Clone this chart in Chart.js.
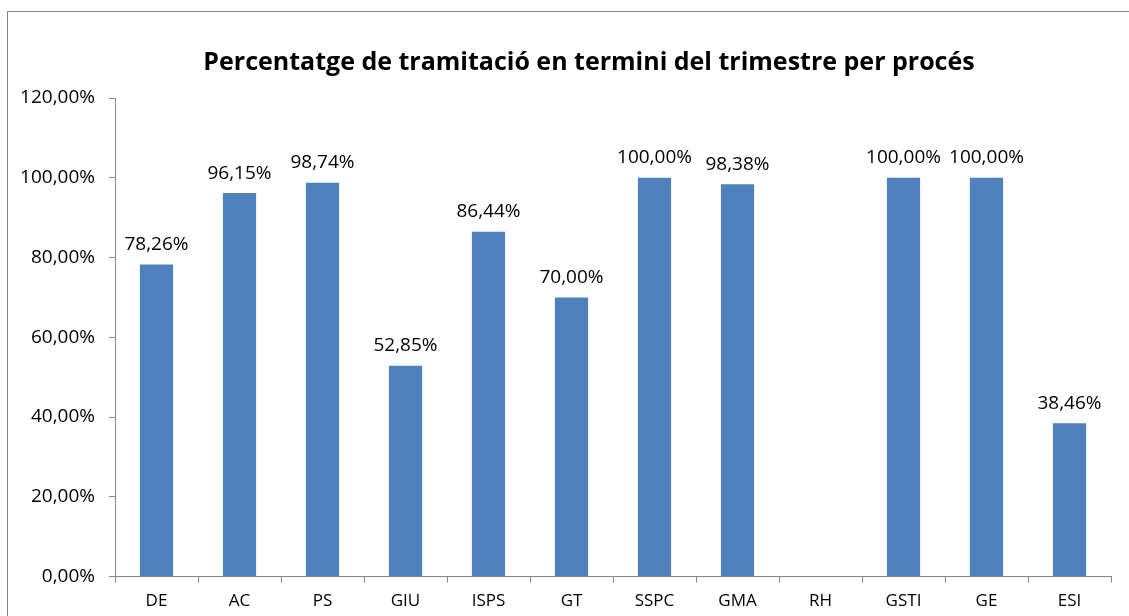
<!DOCTYPE html>
<html>
<head>
<meta charset="utf-8">
<script src="https://cdn.jsdelivr.net/npm/chart.js@4"></script>
<style>
  body { margin: 0; background: #fff; }
  #frame { position: absolute; left: 7px; top: 11px; width: 1130px; height: 620px; border: 1px solid #868686; }
  #wrap { position: absolute; left: 0; top: 0; width: 1129px; height: 616px; }
</style>
</head>
<body>
<div id="frame"></div>
<div id="wrap"><canvas id="chart"></canvas></div>
<script>
var categories = ['DE', 'AC', 'PS', 'GIU', 'ISPS', 'GT', 'SSPC', 'GMA', 'RH', 'GSTI', 'GE', 'ESI'];
var values = [78.26, 96.15, 98.74, 52.85, 86.44, 70.00, 100.00, 98.38, null, 100.00, 100.00, 38.46];
var yTicks = [0, 20, 40, 60, 80, 100, 120];
var title = 'Percentatge de tramitació en termini del trimestre per procés';

function pct(v) {
	return v.toFixed(2).replace('.', ',') + '%';
}

// data labels above the bars, and the title centred like the original
var barLabels = {
	id: 'barLabels',
	afterDatasetsDraw: function(chart) {
		var ctx = chart.ctx;
		var meta = chart.getDatasetMeta(0);
		ctx.save();
		ctx.font = '19px "Open Sans"';
		ctx.fillStyle = '#000';
		ctx.textAlign = 'center';
		ctx.textBaseline = 'middle';
		meta.data.forEach(function(bar, i) {
			if (values[i] === null) return;
			ctx.fillText(pct(values[i]), bar.x, bar.y - 20);
		});
		ctx.font = 'bold 25px "Open Sans"';
		ctx.fillText(title, 589, 63);
		ctx.restore();
	}
};

new Chart(document.getElementById('chart'), {
	type: 'bar',
	data: {
		labels: categories,
		datasets: [{
			data: values,
			backgroundColor: '#4F81BD',
			barPercentage: 0.4,
			categoryPercentage: 1
		}]
	},
	plugins: [barLabels],
	options: {
		responsive: true,
		maintainAspectRatio: false,
		animation: false,
		layout: { padding: { left: 0, right: 18, top: 98, bottom: -3 } },
		plugins: {
			legend: { display: false },
			tooltip: { enabled: false },
			title: { display: false }
		},
		scales: {
			x: {
				grid: { offset: true, drawOnChartArea: false, tickLength: 6, color: '#868686' },
				border: { color: '#868686' },
				ticks: { color: '#000', font: { family: 'Open Sans', size: 17 }, padding: 8 }
			},
			y: {
				min: 0,
				max: 120,
				afterFit: function(scale) { scale.width = 115; },
				afterBuildTicks: function(scale) {
					scale.ticks = yTicks.map(function(v) { return { value: v }; });
				},
				grid: { drawOnChartArea: false, tickLength: 6, color: '#868686' },
				border: { color: '#868686' },
				ticks: {
					color: '#000',
					font: { family: 'Open Sans', size: 19 },
					padding: 14,
					callback: function(v) { return pct(v); }
				}
			}
		}
	}
});
</script>
</body>
</html>
